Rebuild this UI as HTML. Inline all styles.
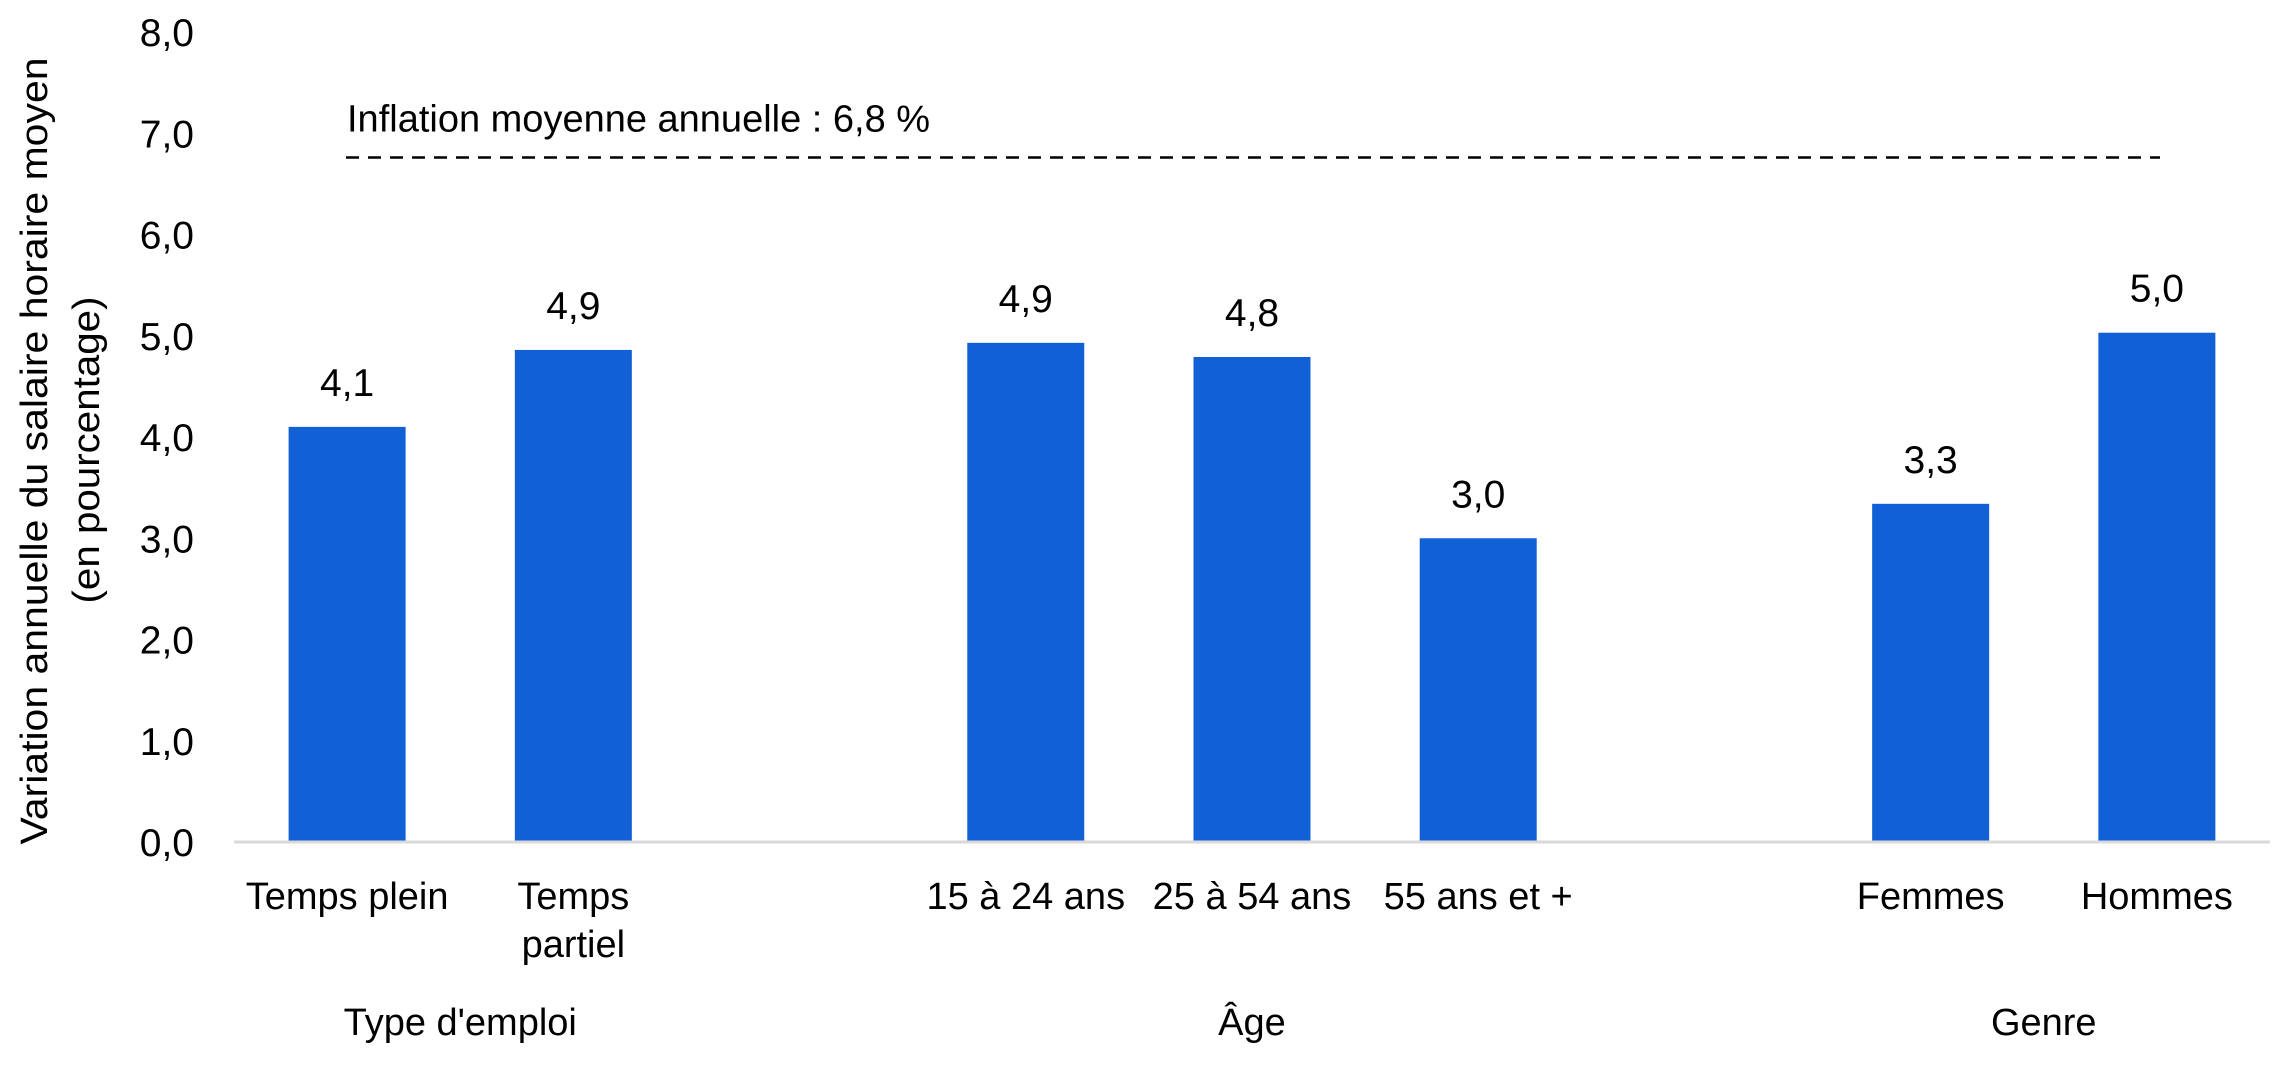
<!DOCTYPE html>
<html><head><meta charset="utf-8"><style>
html,body{margin:0;padding:0;background:#fff;}
svg{display:block;font-family:"Liberation Sans",Arial,sans-serif;}
</style></head><body>
<svg id="chart" width="2285" height="1068" viewBox="0 0 2285 1068" xmlns="http://www.w3.org/2000/svg">
<g id="yticks"></g>
<g id="bars"></g>
<g id="labels"></g>
<g id="cats"></g>
<g id="groups"></g>
<text transform="translate(47,451) rotate(-90)" text-anchor="middle" font-size="38" fill="#000" textLength="787" lengthAdjust="spacingAndGlyphs">Variation annuelle du salaire horaire moyen</text>
<text transform="translate(99,450) rotate(-90)" text-anchor="middle" font-size="38" fill="#000" textLength="307" lengthAdjust="spacingAndGlyphs">(en pourcentage)</text>
<line id="infl" x1="346" x2="2160" stroke="#000" stroke-width="2.5" stroke-dasharray="13,9"/>
<text id="inflLabel" x="347" font-size="38" fill="#000">Inflation moyenne annuelle : 6,8 %</text>
<line x1="234" x2="2270" y1="842" y2="842" stroke="#d9d9d9" stroke-width="3"/>
</svg>
<script>
const categories = [["Temps plein"],["Temps","partiel"],null,["15 à 24 ans"],["25 à 54 ans"],["55 ans et +"],null,["Femmes"],["Hommes"]];
const values = [4.1,4.86,null,4.93,4.79,3.0,null,3.34,5.03];
const valueLabels = ["4,1","4,9",null,"4,9","4,8","3,0",null,"3,3","5,0"];
const yTicks = [0,1,2,3,4,5,6,7,8];
const yTickLabels = ["0,0","1,0","2,0","3,0","4,0","5,0","6,0","7,0","8,0"];
const groups = ["Type d'emploi","Âge","Genre"];
const groupSlots = [[0,1],[3,5],[7,8]];
const inflation = 6.8;

const NS="http://www.w3.org/2000/svg";
const y0=842, unit=101.25, x0=234, slot=226.22, bw=117;
const yS=v=>y0-v*unit;
const xS=i=>x0+slot*(i+0.5);
function mk(tag,attrs,parent,txt){const e=document.createElementNS(NS,tag);for(const k in attrs)e.setAttribute(k,attrs[k]);if(txt!=null)e.textContent=txt;parent.appendChild(e);return e;}
const gy=document.getElementById('yticks');
yTicks.forEach((v,i)=>{
  const t=mk('text',{x:194,y:yS(v)+14,'text-anchor':'end','font-size':39,fill:'#000'},gy,yTickLabels[i]);
  
  
});
const gb=document.getElementById('bars'),gl=document.getElementById('labels'),gc=document.getElementById('cats');
values.forEach((v,i)=>{
  if(v==null)return;
  const r=mk('rect',{x:xS(i)-bw/2,y:yS(v),width:bw,height:y0-yS(v),fill:'#1160d5'},gb);
  
  
  const t=mk('text',{x:xS(i),y:yS(v)-31,'text-anchor':'middle','font-size':39,fill:'#000'},gl,valueLabels[i]);
  
  
  categories[i].forEach((line,j)=>{
    const c=mk('text',{x:xS(i),y:909+j*48,'text-anchor':'middle','font-size':38,fill:'#000'},gc,line);
    
    
  });
});
const gg=document.getElementById('groups');
groups.forEach((g,i)=>{
  const cx=(xS(groupSlots[i][0])+xS(groupSlots[i][1]))/2;
  const t=mk('text',{x:cx,y:1035,'text-anchor':'middle','font-size':38,fill:'#000'},gg,g);
  
  
});
const il=document.getElementById('infl');
il.setAttribute('y1',yS(inflation)+4);il.setAttribute('y2',yS(inflation)+4);
document.getElementById('inflLabel').setAttribute('y',yS(inflation)-22);
</script>
</body></html>
